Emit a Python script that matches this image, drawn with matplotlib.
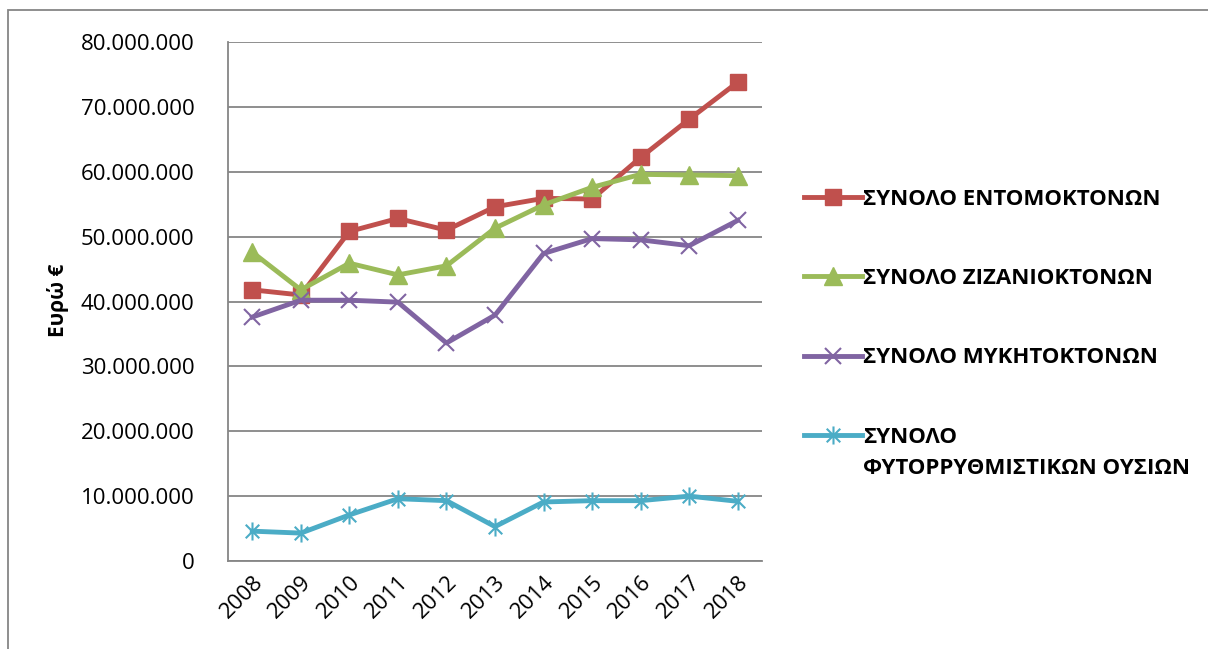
import matplotlib
matplotlib.use("Agg")
import matplotlib.pyplot as plt
from matplotlib.path import Path
from matplotlib.patches import Rectangle
from matplotlib.ticker import FuncFormatter

plt.rcParams['font.family'] = ['Open Sans', 'DejaVu Sans']

years = ['2008', '2009', '2010', '2011', '2012', '2013', '2014', '2015', '2016', '2017', '2018']
insecticides = [41.8, 41.0, 50.8, 52.8, 51.0, 54.6, 55.9, 55.8, 62.2, 68.1, 73.8]
herbicides = [47.6, 41.8, 45.9, 44.1, 45.5, 51.3, 54.9, 57.6, 59.6, 59.5, 59.4]
fungicides = [37.6, 40.2, 40.2, 39.9, 33.6, 37.9, 47.4, 49.7, 49.5, 48.6, 52.5]
regulators = [4.6, 4.3, 7.1, 9.6, 9.3, 5.3, 9.1, 9.3, 9.3, 10.0, 9.2]
labels = ['ΣΥΝΟΛΟ ΕΝΤΟΜΟΚΤΟΝΩΝ', 'ΣΥΝΟΛΟ ΖΙΖΑΝΙΟΚΤΟΝΩΝ', 'ΣΥΝΟΛΟ ΜΥΚΗΤΟΚΤΟΝΩΝ',
          'ΣΥΝΟΛΟ\nΦΥΤΟΡΡΥΘΜΙΣΤΙΚΩΝ ΟΥΣΙΩΝ']
ylabel = 'Ευρώ €'

W, H = 1208, 649
fig = plt.figure(figsize=(W/100, H/100), dpi=100)
ax = fig.add_axes([228/W, 1-561/H, (762-228)/W, (561-42)/H])

star = Path([(0, -1), (0, 1), (-0.75, -0.75), (0.75, 0.75), (-0.75, 0.75), (0.75, -0.75)],
            [Path.MOVETO, Path.LINETO, Path.MOVETO, Path.LINETO, Path.MOVETO, Path.LINETO])

first_lines = [lab.split('\n')[0] for lab in labels]

x = list(range(len(years)))
scale = 1e6
ax.plot(x, [v*scale for v in insecticides], color='#C0504D', lw=3.5, marker='s', ms=12, label=first_lines[0], zorder=4)
ax.plot(x, [v*scale for v in herbicides], color='#9BBB59', lw=3.5, marker='^', ms=13, label=first_lines[1], zorder=4)
ax.plot(x, [v*scale for v in fungicides], color='#8064A2', lw=3.5, marker='x', ms=11, mew=1.5, label=first_lines[2], zorder=4)
ax.plot(x, [v*scale for v in regulators], color='#4BACC6', lw=3.5, marker=star, ms=13, mew=1.5, label=first_lines[3], zorder=4)

ax.set_xlim(-0.5, len(years)-0.5)
ax.set_ylim(0, 80e6)
ax.set_yticks([i*10e6 for i in range(9)])
ax.yaxis.set_major_formatter(FuncFormatter(lambda v, p: f"{int(round(v)):,}".replace(',', '.')))
ax.set_xticks(x)
ax.set_xticklabels(years, rotation=45, ha='right', rotation_mode='anchor')
ax.tick_params(axis='both', length=0, labelsize=16, colors='black')
ax.tick_params(axis='y', pad=24)
ax.tick_params(axis='x', pad=8)
ax.grid(axis='y', color='#868686', lw=1.3)
ax.set_axisbelow(True)
for s in ['top', 'right']:
    ax.spines[s].set_visible(False)
for s in ['left', 'bottom']:
    ax.spines[s].set_color('#868686')
    ax.spines[s].set_linewidth(1.3)

fig.text(58/W, 1-300/H, ylabel, rotation=90, ha='center', va='center', fontsize=15, fontweight='bold')

leg = fig.legend(loc='upper left', bbox_to_anchor=(795/W, 1-180/H), frameon=False,
                 prop={'size': 16, 'weight': 'bold'}, handlelength=2.6, handletextpad=0.05,
                 labelspacing=2.62, borderaxespad=0)

# continuation lines of multi-line labels
fig.canvas.draw()
renderer = fig.canvas.get_renderer()
inv = fig.transFigure.inverted()
for lab, txt in zip(labels, leg.get_texts()):
    parts = lab.split('\n')
    if len(parts) > 1:
        bb = txt.get_window_extent(renderer)
        x0, y0 = inv.transform((bb.x0, bb.y0))
        for k, part in enumerate(parts[1:], start=1):
            fig.text(x0, y0 - k*31/H, part, ha='left', va='bottom', fontsize=16, fontweight='bold')

fig.patches.append(Rectangle((8/W, -0.5), 1.5, 1.5-10/H, transform=fig.transFigure, fill=False,
                             edgecolor='#868686', lw=1.3))

fig.savefig('out.png', dpi=100)
